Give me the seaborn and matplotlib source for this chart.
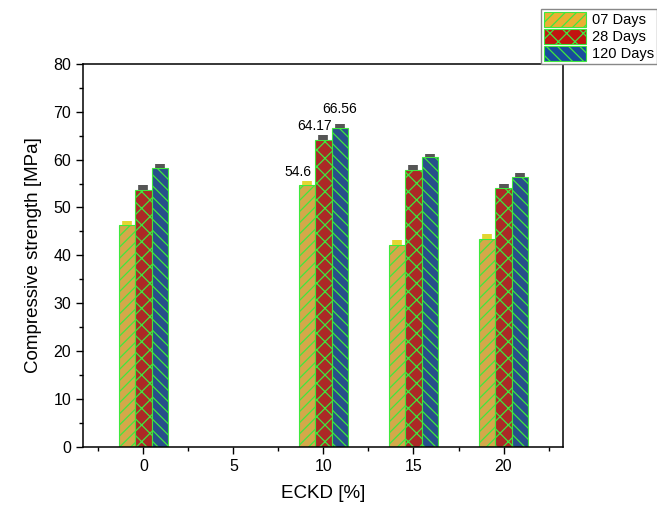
import pandas as pd
import numpy as np
import matplotlib.pyplot as plt
import seaborn as sns
from matplotlib.ticker import MultipleLocator

# data
eckd = [0, 10, 15, 20]
days_07 = [46.3, 54.6, 42.2, 43.5]
days_28 = [53.7, 64.17, 57.9, 54.0]
days_120 = [58.3, 66.56, 60.5, 56.4]
err_07 = [0.9, 0.9, 1.0, 0.9]
err_28 = [1.0, 0.9, 0.9, 0.9]
err_120 = [0.8, 0.8, 0.7, 0.8]
series = ['07 Days', '28 Days', '120 Days']

df = pd.DataFrame({
    'ECKD': eckd * 3,
    'strength': days_07 + days_28 + days_120,
    'err': err_07 + err_28 + err_120,
    'age': [s for s in series for _ in eckd],
})

fills = ['#ebb032', '#c21410', '#174c9c']
err_colors = ['#e2d632', '#555555', '#555555']
hatches = ['///', 'xx', '\\\\\\']
edge = '#3ee83e'

plt.rcParams['font.family'] = ['Liberation Sans', 'DejaVu Sans']
plt.rcParams['hatch.linewidth'] = 0.9

fig = plt.figure(figsize=(6.57, 5.07), dpi=100)
ax = fig.add_axes([0.1263, 0.1183, 0.7306, 0.7560])

sns.barplot(data=df, x='ECKD', y='strength', hue='age', hue_order=series,
            native_scale=True, width=0.55, errorbar=None,
            palette=fills, ax=ax, legend=False)

# style each series: hatch, green edge, and the small error block on top
for i, cont in enumerate(ax.containers):
    sub = df[df['age'] == series[i]]
    for bar, v, e in zip(cont, sub['strength'], sub['err']):
        bar.set_hatch(hatches[i])
        bar.set_edgecolor(edge)
        bar.set_linewidth(0.8)
        xc = bar.get_x() + bar.get_width() / 2
        ax.vlines(xc, v, v + e, color=err_colors[i], lw=7, zorder=5)

# value labels at ECKD = 10
lbl = [(days_07[1], 8.6, 2.8), (days_28[1], 9.5, 2.8), (days_120[1], 10.9, 4.0)]
for v, xt, dy in lbl:
    ax.text(xt, v + dy, f'{v:g}', ha='center', va='center', fontsize=10)

ax.set_xlim(-3.35, 23.3)
ax.set_ylim(0, 80)
ax.xaxis.set_major_locator(MultipleLocator(5))
ax.xaxis.set_minor_locator(MultipleLocator(2.5))
ax.yaxis.set_major_locator(MultipleLocator(10))
ax.yaxis.set_minor_locator(MultipleLocator(5))
ax.tick_params(which='both', direction='out', labelsize=11.5, width=1)
ax.tick_params(which='major', length=5)
ax.tick_params(which='minor', length=3)
for s in ax.spines.values():
    s.set_linewidth(1.1)
ax.set_xlabel('ECKD [%]', fontsize=13.5, labelpad=8)
ax.set_ylabel('Compressive strength [MPa]', fontsize=13.5, labelpad=8)

# legend outside the axes, top right
handles = [plt.Rectangle((0, 0), 1, 1, facecolor=fills[i], hatch=hatches[i],
                         edgecolor=edge, lw=0.8) for i in range(3)]
leg = fig.legend(handles, series, loc='upper right', bbox_to_anchor=(1.0, 0.982),
                 fontsize=10.5, fancybox=False, framealpha=1, edgecolor='#888888',
                 handlelength=2.9, handleheight=1.2, handletextpad=0.4,
                 labelspacing=0.1, borderpad=0.2, borderaxespad=0)

fig.savefig('out.png', dpi=100)
